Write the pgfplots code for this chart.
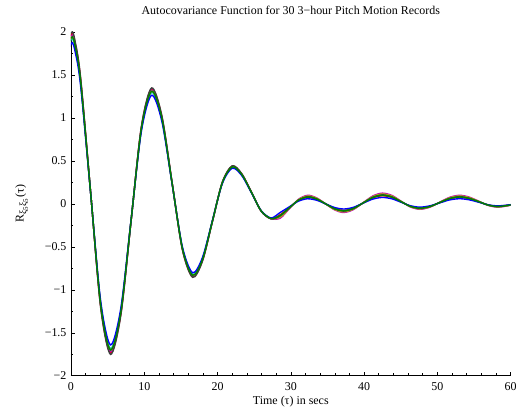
\documentclass[border=0pt]{standalone}
\usepackage{pgfplots}
\pgfplotsset{compat=1.18}
\usepackage{pgfplotstable}
\usepackage{fontspec}
\setmainfont{Liberation Serif}
\definecolor{mb}{rgb}{0,0,1}
\definecolor{mgr}{rgb}{0,0.5,0}
\definecolor{mr}{rgb}{1,0,0}
\definecolor{mc}{rgb}{0,0.75,0.75}
\definecolor{mm}{rgb}{0.75,0,0.75}
\definecolor{my}{rgb}{0.75,0.75,0}
\definecolor{mk}{rgb}{0.25,0.25,0.25}
\pgfplotstableread{
t k r m y c g b
-1.35 1.440 1.426 1.412 1.398 1.384 1.398 1.349
0 1.988 1.969 1.949 1.930 1.911 1.930 1.862
0.65 1.855 1.837 1.819 1.801 1.783 1.801 1.738
1.35 1.440 1.426 1.412 1.398 1.384 1.398 1.349
2.7 0.118 0.117 0.116 0.115 0.114 0.115 0.111
4.05 -1.203 -1.191 -1.180 -1.168 -1.156 -1.168 -1.127
5.4 -1.751 -1.734 -1.717 -1.700 -1.683 -1.700 -1.641
6.8 -1.297 -1.284 -1.272 -1.259 -1.246 -1.259 -1.215
8.2 -0.201 -0.199 -0.197 -0.195 -0.193 -0.195 -0.188
9.6 0.895 0.886 0.878 0.869 0.860 0.869 0.839
11.0 1.349 1.336 1.323 1.310 1.297 1.310 1.264
12.4 1.026 1.016 1.006 0.996 0.986 0.996 0.961
13.8 0.247 0.245 0.242 0.240 0.238 0.240 0.232
15.2 -0.531 -0.526 -0.521 -0.516 -0.511 -0.516 -0.498
16.6 -0.855 -0.847 -0.838 -0.830 -0.822 -0.830 -0.801
17.95 -0.664 -0.658 -0.651 -0.645 -0.639 -0.645 -0.622
19.3 -0.206 -0.204 -0.202 -0.200 -0.198 -0.200 -0.193
20.65 0.252 0.250 0.247 0.245 0.243 0.245 0.236
22.0 0.443 0.439 0.434 0.430 0.426 0.430 0.415
23.3 0.352 0.349 0.345 0.342 0.339 0.342 0.330
24.65 0.134 0.133 0.131 0.130 0.129 0.130 0.125
25.95 -0.084 -0.084 -0.083 -0.082 -0.081 -0.082 -0.079
27.3 -0.175 -0.173 -0.172 -0.170 -0.168 -0.170 -0.164
28.55 -0.140 -0.126 -0.166 -0.153 -0.146 -0.133 -0.100
29.8 -0.047 -0.043 -0.056 -0.052 -0.050 -0.045 -0.034
31.05 0.045 0.041 0.054 0.049 0.047 0.043 0.032
32.3 0.084 0.076 0.100 0.092 0.088 0.080 0.060
33.5 0.060 0.054 0.071 0.066 0.063 0.057 0.043
34.75 0 0 0 0 0 0 0
36.0 -0.060 -0.054 -0.071 -0.066 -0.063 -0.057 -0.043
37.2 -0.084 -0.076 -0.100 -0.092 -0.088 -0.080 -0.060
38.5 -0.057 -0.051 -0.068 -0.062 -0.059 -0.054 -0.041
39.85 0.011 0.010 0.013 0.012 0.011 0.010 0.008
41.2 0.078 0.070 0.093 0.085 0.081 0.074 0.056
42.5 0.105 0.095 0.125 0.115 0.110 0.100 0.075
43.8 0.082 0.074 0.098 0.090 0.086 0.078 0.059
45.05 0.026 0.024 0.031 0.029 0.028 0.025 0.019
46.3 -0.029 -0.027 -0.035 -0.032 -0.031 -0.028 -0.021
47.6 -0.053 -0.048 -0.063 -0.058 -0.055 -0.050 -0.038
48.95 -0.033 -0.029 -0.039 -0.036 -0.034 -0.031 -0.023
50.3 0.016 0.014 0.019 0.017 0.017 0.015 0.011
51.65 0.064 0.058 0.076 0.070 0.067 0.061 0.046
53.0 0.084 0.076 0.100 0.092 0.088 0.080 0.060
54.3 0.067 0.061 0.080 0.074 0.070 0.064 0.048
55.65 0.026 0.024 0.031 0.029 0.028 0.025 0.019
56.95 -0.015 -0.013 -0.018 -0.016 -0.015 -0.014 -0.011
58.3 -0.032 -0.029 -0.038 -0.035 -0.033 -0.030 -0.023
60 -0.013 -0.011 -0.015 -0.014 -0.013 -0.012 -0.009
}\acvdata
\begin{document}
\begin{tikzpicture}
\begin{axis}[name=ax, scale only axis, width=440bp, height=344bp,
  xmin=0, xmax=60, ymin=-2, ymax=2,
  axis lines=left, axis line style={-, line width=0.6bp},
  every tick/.style={black, line width=0.6bp},
  tick align=inside, major tick length=4bp, minor tick length=2.5bp,
  xtick={0,10,20,30,40,50,60}, xticklabels={0,10,20,30,40,50,60},
  minor x tick num=4,
  ytick={-2,-1.5,-1,-0.5,0,0.5,1,1.5,2},
  yticklabels={−2,−1.5,−1,−0.5,0,0.5,1,1.5,2},
  minor y tick num=1,
  tick label style={font=\fontsize{12}{14}\selectfont},
  xticklabel style={yshift=-3bp},
  yticklabel style={xshift=-1bp},
  title={Autocovariance Function for 30 3−hour Pitch Motion Records},
  title style={font=\fontsize{12}{14}\selectfont, at={(axis description cs:0.5,1)}, anchor=base, yshift=12bp},
  xlabel={Time (τ) in secs},
  xlabel style={font=\fontsize{12}{14}\selectfont, at={(axis description cs:0.5,0)}, anchor=base, yshift=-29bp},
  ylabel={R\textsubscript{\fontsize{10}{10}\selectfont ξ\textsubscript{5}ξ\textsubscript{5}}(τ)},
  ylabel style={font=\fontsize{12}{14}\selectfont, at={(axis description cs:-0.112,0.5)}, anchor=center},
  every axis plot/.append style={no marks, smooth, line width=1.4bp},
]
\addplot[mr] table[x=t,y=r]{\acvdata};
\addplot[mc] table[x=t,y=c]{\acvdata};
\addplot[mm] table[x=t,y=m]{\acvdata};
\addplot[my] table[x=t,y=y]{\acvdata};
\addplot[mk] table[x=t,y=k]{\acvdata};
\addplot[mb] table[x=t,y=b]{\acvdata};
\addplot[mgr] table[x=t,y=g]{\acvdata};
\end{axis}
\path (ax.south west) ++(-71bp,-37bp);
\path (ax.north east) ++(9bp,32bp);
\end{tikzpicture}
\end{document}
